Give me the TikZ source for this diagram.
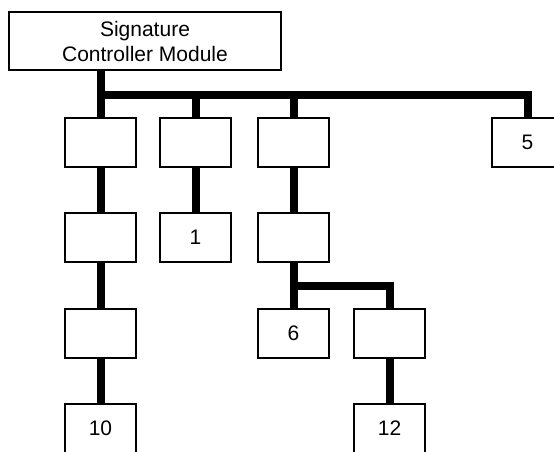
\documentclass[tikz,border=0pt]{standalone}
\usepackage{fontspec}
\setmainfont{Liberation Sans}
\begin{document}
\begin{tikzpicture}[x=1pt,y=-1pt,
  box/.style={draw=black,line width=2pt,fill=white,minimum width=71pt,minimum height=49pt,inner sep=0pt,font=\fontsize{21}{25}\selectfont},
  topbox/.style={draw=black,line width=2pt,fill=white,minimum width=272pt,minimum height=58pt,inner sep=0pt,align=center,font=\fontsize{21}{25}\selectfont},
  bus/.style={line width=8pt,line cap=butt,line join=miter}]
\useasboundingbox (0,0) rectangle (554,451);
\clip (0,0) rectangle (554,451);
\coordinate (busy) at (0,95);
\coordinate (subbusy) at (0,286);
\node[topbox] (T) at (145,41) {Signature\\Controller Module};
\node[box] (A1) at (100.5,142.5) {};
\node[box] (A2) at (100.5,237.5) {};
\node[box] (A3) at (100.5,333.5) {};
\node[box] (A4) at (100.5,428.5) {10};
\node[box] (B1) at (195.5,142.5) {};
\node[box] (B2) at (195.5,237.5) {1};
\node[box] (C1) at (293.5,142.5) {};
\node[box] (C2) at (293.5,237.5) {};
\node[box] (C3) at (293.5,333.5) {6};
\node[box] (D1) at (527.5,142.5) {5};
\node[box] (E3) at (389.5,333.5) {};
\node[box] (E4) at (389.5,428.5) {12};
\draw[bus] (T.south -| A1.north) -- (A1.north);
\draw[bus] (A1.north |- busy) -- (D1.north |- busy) -- (D1.north);
\draw[bus] (B1.north |- busy) -- (B1.north);
\draw[bus] (C1.north |- busy) -- (C1.north);
\draw[bus] (A1.south) -- (A2.north);
\draw[bus] (A2.south) -- (A3.north);
\draw[bus] (A3.south) -- (A4.north);
\draw[bus] (B1.south) -- (B2.north);
\draw[bus] (C1.south) -- (C2.north);
\draw[bus] (C2.south) -- (C3.north);
\draw[bus] (C2.south |- subbusy) -- (E3.north |- subbusy) -- (E3.north);
\draw[bus] (E3.south) -- (E4.north);
\end{tikzpicture}
\end{document}
